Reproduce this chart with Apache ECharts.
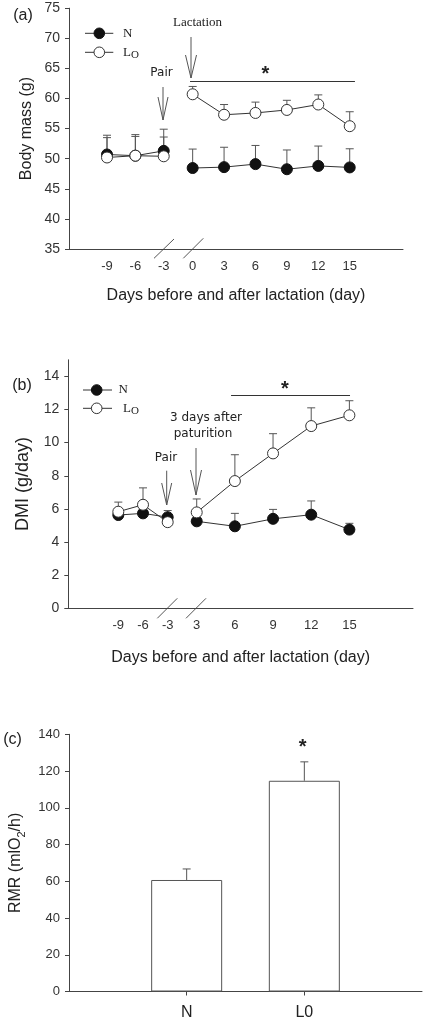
<!DOCTYPE html>
<html><head><meta charset="utf-8">
<script src="https://cdn.jsdelivr.net/npm/echarts@6/dist/echarts.min.js"></script>
<style>html,body{margin:0;padding:0;background:#fff}#c{width:426px;height:1022px}</style>
</head><body><div id="c"></div>
<script>
// ---------- data ----------
const daysPreA = [-9, -6, -3];
const daysPostA = [0, 3, 6, 9, 12, 15];
const massN_pre = [50.7, 50.5, 51.3];
const massN_preTop = [53.5, 53.7, 54.9];
const massL_pre = [50.2, 50.5, 50.4];
const massL_preTop = [53.9, 54.0, 53.6];
const massN_post = [48.45, 48.6, 49.1, 48.25, 48.8, 48.55];
const massN_postTop = [51.6, 51.9, 52.2, 51.45, 52.1, 51.65];
const massL_post = [60.7, 57.3, 57.6, 58.1, 59.0, 55.4];
const massL_postTop = [62.0, 59.0, 59.4, 59.7, 60.6, 57.8];
const massSig = [-0.25, 15.5, 62.9];

const daysPreB = [-9, -6, -3];
const daysPostB = [3, 6, 9, 12, 15];
const dmiN_pre = [5.63, 5.73, 5.5];
const dmiN_preTop = [5.8, 5.9, 5.9];
const dmiL_pre = [5.83, 6.25, 5.2];
const dmiL_preTop = [6.41, 7.27, 5.35];
const dmiN_post = [5.25, 4.95, 5.4, 5.65, 4.75];
const dmiN_postTop = [5.45, 5.73, 5.97, 6.48, 5.13];
const dmiL_post = [5.79, 7.68, 9.35, 11.0, 11.65];
const dmiL_postTop = [6.6, 9.27, 10.54, 12.1, 12.53];
const dmiTicks = [0, 2, 4, 6, 8, 10, 12, 14];
const dmiSig = [5.7, 15.05, 12.85];

const groups = ['N', 'L0'];
const groupPos = [1, 2];
const rmr = [60.7, 114.7];
const rmrTop = [66.7, 125.0];

// ---------- styles ----------
const AX = '#444';
const TXT = '#333';
const SANS = 'Liberation Sans, Arial, sans-serif';
const SERIF = 'Liberation Serif, Times New Roman, serif';
const VERD = 'DejaVu Sans, Verdana, sans-serif';

function pts(xs, ys) { return xs.map((x, i) => [x, ys[i]]); }
function errs(xs, ys, tops) { return xs.map((x, i) => [x, ys[i], tops[i]]); }

function lineSeries(xs, ys, xi, filled) {
  return {
    type: 'line', xAxisIndex: xi, yAxisIndex: xi, data: pts(xs, ys),
    symbol: 'circle', symbolSize: 11, showSymbol: true, z: filled ? 3 : 4,
    lineStyle: { color: '#333', width: 1 },
    itemStyle: filled ? { color: '#111', borderColor: '#111', borderWidth: 1 }
                      : { color: '#fff', borderColor: '#333', borderWidth: 1 },
    emphasis: { disabled: true }, silent: true
  };
}
function errSeries(xs, ys, tops, xi, yi) {
  return {
    type: 'custom', xAxisIndex: xi, yAxisIndex: yi, data: errs(xs, ys, tops), z: 2, silent: true,
    renderItem: function (params, api) {
      const p0 = api.coord([api.value(0), api.value(1)]);
      const p1 = api.coord([api.value(0), api.value(2)]);
      const st = { stroke: '#555', lineWidth: 1 };
      return { type: 'group', children: [
        { type: 'line', shape: { x1: p0[0], y1: p0[1], x2: p1[0], y2: p1[1] }, style: st },
        { type: 'line', shape: { x1: p1[0] - 4, y1: p1[1], x2: p1[0] + 4, y2: p1[1] }, style: st }
      ]};
    }
  };
}
function sigLine(sig, xi) {
  return {
    type: 'line', xAxisIndex: xi, yAxisIndex: xi, data: [], silent: true,
    markLine: {
      silent: true, symbol: ['none', 'none'], animation: false,
      lineStyle: { color: '#333', width: 1, type: 'solid' }, label: { show: false },
      data: [[{ coord: [sig[0], sig[2]] }, { coord: [sig[1], sig[2]] }]]
    }
  };
}
function xAxisDays(gi, min, max, vals) {
  return {
    gridIndex: gi, type: 'value', min: min, max: max,
    axisLine: { show: true, onZero: false, lineStyle: { color: AX, width: 1 } },
    axisTick: { show: false }, splitLine: { show: false },
    axisLabel: { customValues: vals, margin: 11, fontSize: 13, fontFamily: SANS, color: TXT,
      formatter: v => String(v) }
  };
}
function hiddenY(gi, min, max) {
  return { gridIndex: gi, type: 'value', min: min, max: max, show: false, splitLine: { show: false } };
}

// arrow helper (graphic)
function arrow(x, y0, y1, headLen, half) {
  const st = { stroke: '#555', lineWidth: 1, fill: null };
  return [
    { type: 'line', shape: { x1: x, y1: y0, x2: x, y2: y1 }, style: st, silent: true },
    { type: 'polyline', shape: { points: [[x - half, y1 - headLen], [x, y1], [x + half, y1 - headLen]] }, style: st, silent: true }
  ];
}
function txt(x, y, text, font, align, extra) {
  return Object.assign({ type: 'text', x: x, y: y, silent: true,
    style: Object.assign({ text: text, font: font, fill: '#222', align: align || 'center', verticalAlign: 'middle' }, extra || {}) });
}
function legendItem(x0, x1, cx, y, filled) {
  return [
    { type: 'line', shape: { x1: x0, y1: y, x2: x1, y2: y }, style: { stroke: '#333', lineWidth: 1 }, silent: true },
    { type: 'circle', shape: { cx: cx, cy: y, r: 5.3 }, style: { fill: filled ? '#111' : '#fff', stroke: filled ? '#111' : '#333', lineWidth: 1 }, silent: true }
  ];
}
function slash(x1, y1, x2, y2) {
  return { type: 'line', shape: { x1: x1, y1: y1, x2: x2, y2: y2 }, style: { stroke: '#555', lineWidth: 1 }, silent: true };
}
const LO_RICH = { l: { font: '13px ' + SERIF, fill: '#222', lineHeight: 16 }, o: { font: '11px ' + SERIF, fill: '#222', lineHeight: 11, verticalAlign: 'bottom' } };

const chart = echarts.init(document.getElementById('c'), null, { renderer: 'canvas' });

const option = {
  animation: false,
  backgroundColor: '#fff',
  grid: [
    { left: 69, top: 8.2, width: 109, height: 240.8 },
    { left: 178, top: 8.2, width: 225, height: 240.8 },
    { left: 68.3, top: 359.8, width: 113.7, height: 248.5 },
    { left: 182, top: 359.8, width: 231, height: 248.5 },
    { left: 65.7, top: 734.3, width: 356.3, height: 257.2 }
  ],
  xAxis: [
    xAxisDays(0, -13.02, -1.49, daysPreA),
    xAxisDays(1, -1.40, 20.09, daysPostA),
    xAxisDays(2, -15.08, -1.26, daysPreB),
    xAxisDays(3, 1.844, 20.0, daysPostB),
    {
      gridIndex: 4, type: 'value', min: 0, max: 3,
      axisLine: { show: true, onZero: false, lineStyle: { color: AX, width: 1 } },
      axisTick: { show: true, inside: false, length: 4, customValues: groupPos, lineStyle: { color: AX } },
      splitLine: { show: false },
      axisLabel: { customValues: groupPos, margin: 13, fontSize: 16, fontFamily: SANS, color: '#222',
        formatter: v => groups[groupPos.indexOf(v)] }
    }
  ],
  yAxis: [
    {
      gridIndex: 0, type: 'value', min: 35, max: 75, interval: 5,
      axisLine: { show: true, lineStyle: { color: AX, width: 1 } },
      axisTick: { show: true, inside: false, length: 4, lineStyle: { color: AX } },
      splitLine: { show: false },
      axisLabel: { margin: 9, fontSize: 14, fontFamily: SANS, color: TXT },
      name: 'Body mass (g)', nameLocation: 'middle', nameGap: 34,
      nameTextStyle: { fontSize: 16, fontFamily: SANS, color: '#222' }
    },
    hiddenY(1, 35, 75),
    {
      gridIndex: 2, type: 'value', min: 0, max: 15,
      axisLine: { show: true, lineStyle: { color: AX, width: 1 } },
      axisTick: { show: true, inside: false, length: 4, customValues: dmiTicks, lineStyle: { color: AX } },
      splitLine: { show: false },
      axisLabel: { customValues: dmiTicks, margin: 9, fontSize: 14, fontFamily: SANS, color: TXT },
      name: 'DMI (g/day)', nameLocation: 'middle', nameGap: 36,
      nameTextStyle: { fontSize: 18, fontFamily: SANS, color: '#222' }
    },
    hiddenY(3, 0, 15),
    {
      gridIndex: 4, type: 'value', min: 0, max: 140, interval: 20,
      axisLine: { show: true, lineStyle: { color: AX, width: 1 } },
      axisTick: { show: true, inside: false, length: 4, lineStyle: { color: AX } },
      splitLine: { show: false },
      axisLabel: { margin: 9, fontSize: 13, fontFamily: SANS, color: TXT },
      name: '{a|RMR (mlO}{sub|2}{a|/h)}', nameLocation: 'middle', nameGap: 42,
      nameTextStyle: { fontSize: 16, fontFamily: SANS, color: '#222',
        rich: { a: { fontSize: 16, fontFamily: SANS, color: '#222', lineHeight: 22 },
                sub: { fontSize: 11, fontFamily: SANS, color: '#222', lineHeight: 11, verticalAlign: 'bottom' } } }
    }
  ],
  series: [
    // panel a
    errSeries(daysPreA, massN_pre, massN_preTop, 0, 0),
    errSeries(daysPreA, massL_pre, massL_preTop, 0, 0),
    errSeries(daysPostA, massN_post, massN_postTop, 1, 1),
    errSeries(daysPostA, massL_post, massL_postTop, 1, 1),
    lineSeries(daysPreA, massN_pre, 0, true),
    lineSeries(daysPreA, massL_pre, 0, false),
    lineSeries(daysPostA, massN_post, 1, true),
    lineSeries(daysPostA, massL_post, 1, false),
    sigLine(massSig, 1),
    // panel b
    errSeries(daysPreB, dmiN_pre, dmiN_preTop, 2, 2),
    errSeries(daysPreB, dmiL_pre, dmiL_preTop, 2, 2),
    errSeries(daysPostB, dmiN_post, dmiN_postTop, 3, 3),
    errSeries(daysPostB, dmiL_post, dmiL_postTop, 3, 3),
    lineSeries(daysPreB, dmiN_pre, 2, true),
    lineSeries(daysPreB, dmiL_pre, 2, false),
    lineSeries(daysPostB, dmiN_post, 3, true),
    lineSeries(daysPostB, dmiL_post, 3, false),
    sigLine(dmiSig, 3),
    // panel c
    errSeries(groupPos, rmr, rmrTop, 4, 4),
    {
      type: 'bar', xAxisIndex: 4, yAxisIndex: 4, data: pts(groupPos, rmr), barWidth: 71, z: 3, silent: true,
      itemStyle: { color: '#fff', borderColor: '#555', borderWidth: 1 }
    }
  ],
  graphic: { elements: [].concat(
    // panel labels
    [txt(23, 16, '(a)', '16px ' + SANS), txt(22, 386, '(b)', '16px ' + SANS), txt(12.5, 740, '(c)', '16px ' + SANS)],
    // x titles
    [txt(236, 296, 'Days before and after lactation (day)', '16px ' + SANS),
     txt(240.6, 658, 'Days before and after lactation (day)', '16px ' + SANS)],
    // legends
    legendItem(85, 113.3, 99.3, 33.3, true), legendItem(85, 113.3, 99.3, 52.3, false),
    [txt(123, 33.3, 'N', '13px ' + SERIF, 'left'),
     txt(123, 52.3, '{l|L}{o|O}', '13px ' + SERIF, 'left', { rich: LO_RICH })],
    legendItem(83, 112, 96.7, 390, true), legendItem(83, 112, 96.7, 408.3, false),
    [txt(118.5, 390, 'N', '13px ' + SERIF, 'left'),
     txt(123, 408.3, '{l|L}{o|O}', '13px ' + SERIF, 'left', { rich: LO_RICH })],
    // annotations a
    [txt(197.5, 23, 'Lactation', '13px ' + SERIF), txt(161.5, 73, 'Pair', '12px ' + VERD)],
    arrow(191, 37, 78, 23, 5.5), arrow(163, 87, 120, 23, 5),
    [txt(265.5, 74, '*', 'bold 20px ' + SANS)],
    // annotations b
    [txt(206, 418, '3 days after', '12px ' + VERD), txt(203, 434, 'paturition', '12px ' + VERD),
     txt(166, 458, 'Pair', '12px ' + VERD)],
    arrow(166.7, 470.7, 505, 22, 5), arrow(196, 448, 495, 25, 5.5),
    [txt(285, 389, '*', 'bold 20px ' + SANS)],
    // annotation c
    [txt(302.7, 747, '*', 'bold 20px ' + SANS)],
    // axis breaks
    [slash(154, 258.3, 174, 239), slash(183.3, 258.3, 203.3, 238.3),
     slash(157.3, 618.3, 177.3, 598.3), slash(186, 618.3, 206, 598.3)]
  ) }
};
chart.setOption(option);
</script>
</body></html>
